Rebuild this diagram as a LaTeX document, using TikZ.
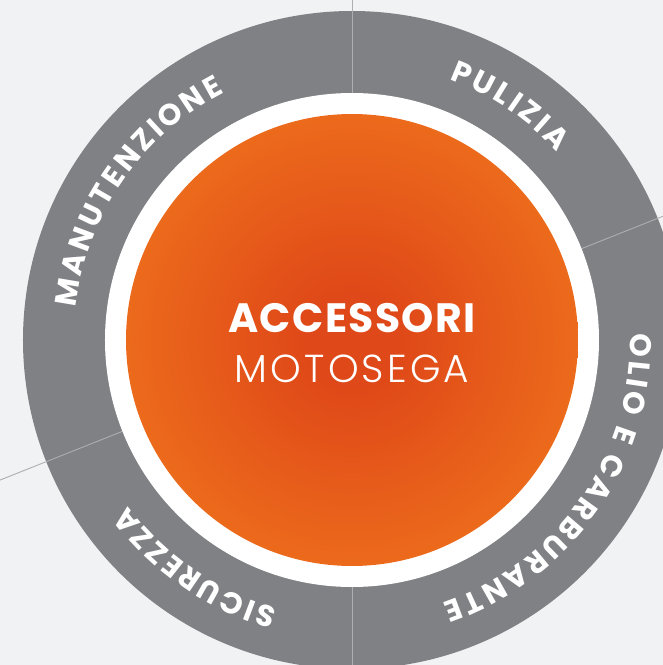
\documentclass[tikz,border=0pt]{standalone}
\usepackage{fontspec}
\setmainfont{Poppins}
\newfontfamily\lightfont[LetterSpace=8]{Poppins Light}
\newfontfamily\headfont[LetterSpace=3.5]{Poppins Bold}
\usetikzlibrary{decorations.text}

\definecolor{pagebg}{HTML}{F1F2F4}
\definecolor{ringgray}{HTML}{808184}
\definecolor{splitline}{HTML}{ADAEB1}
\definecolor{orangecore}{HTML}{DF4818}
\definecolor{orangerim}{HTML}{F7871F}
\pgfdeclareradialshading{glow}{\pgfpoint{0bp}{0bp}}{color(0bp)=(orangecore); color(5bp)=(orangecore); color(42bp)=(orangerim); color(50bp)=(orangerim)}
\newcommand\ringfont{\bfseries\fontsize{30pt}{30pt}\selectfont}

\begin{document}
\begin{tikzpicture}[
    x=1pt, y=1pt,
    divider/.style={draw=splitline, line width=0.9pt},
    ringlabel/.style={decorate, decoration={text along path, text align={fit to path}, text color=white, text={|\ringfont|#1}}},
    title/.style={text=white, anchor=base, inner sep=0pt}
]

    % Page
    \useasboundingbox (-352,-325) rectangle (311,340);
    \fill[pagebg] (-352,-325) rectangle (311,340);
    \clip (-352,-325) rectangle (311,340);

    % Outer ring and dividers
    \fill[ringgray] (0,0) circle[radius=329];
    \draw[divider] (0,-325) -- (0,340);
    \draw[divider] (201.7:400) -- (21.7:400);

    % Inner discs
    \fill[white] (0,0) circle[radius=247];
    \shade[shading=glow] (0,0) circle[radius=226];

    % Centre title
    \node[title, font=\headfont\fontsize{41pt}{41pt}\selectfont] (head) at (0,8) {ACCESSORI};
    \node[title, font=\lightfont\fontsize{39pt}{39pt}\selectfont] (sub) at (0,-42) {MOTOSEGA};

    % Ring labels
    \path[ringlabel=MANUTENZIONE] (173.3:278.5) arc[start angle=173.3, end angle=117.3, radius=278.5];
    \path[ringlabel=PULIZIA] (69.5:278.5) arc[start angle=69.5, end angle=42.5, radius=278.5];
    \path[ringlabel=OLIO E CARBURANTE] (1.3:278.5) arc[start angle=1.3, end angle=-71, radius=278.5];
    \path[ringlabel=SICUREZZA] (-105.5:278.5) arc[start angle=-105.5, end angle=-143.5, radius=278.5];

\end{tikzpicture}
\end{document}
